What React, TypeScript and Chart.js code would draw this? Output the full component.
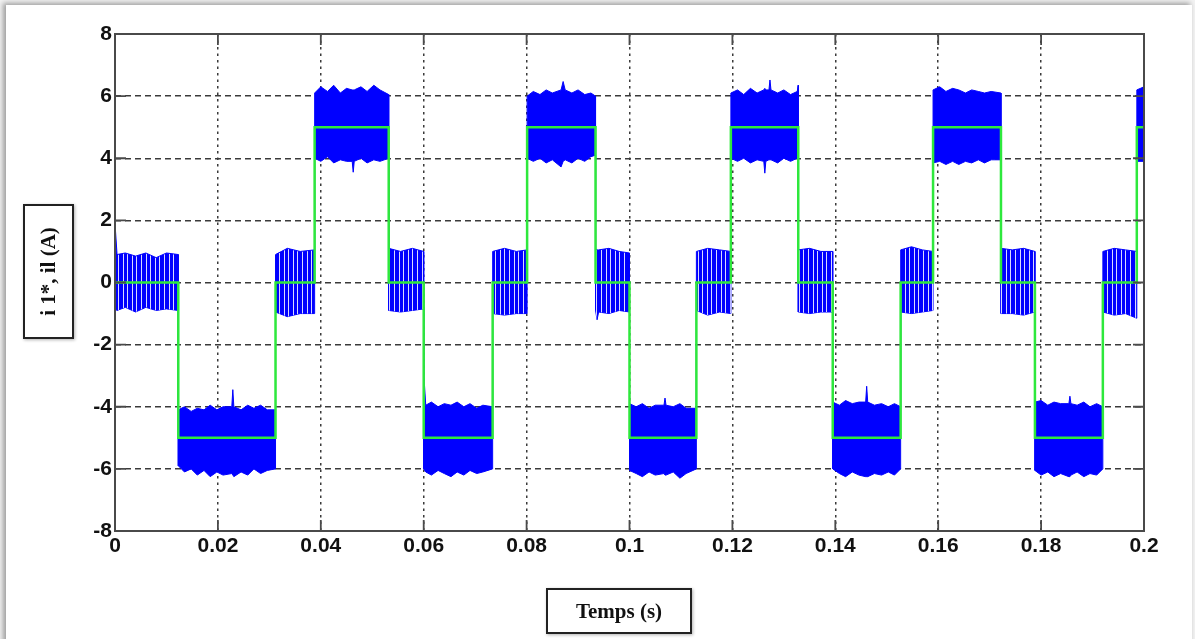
import React, { useEffect, useRef } from "react";
import { Chart, registerables } from "chart.js";

Chart.register(...registerables);

// ---- data ----
const xTickValues = [0, 0.02, 0.04, 0.06, 0.08, 0.1, 0.12, 0.14, 0.16, 0.18, 0.2];
const yTickValues = [-8, -6, -4, -2, 0, 2, 4, 6, 8];
const xTitle = "Temps (s)";
const yTitle = "i 1*, il (A)";

// reference current i1* (green step signal); each value holds until the next time
const stepTime = [0, 0.0123, 0.0312, 0.0388, 0.0532, 0.06, 0.0734, 0.0801, 0.0934, 0.1, 0.113, 0.1197, 0.1328, 0.1395, 0.1527, 0.159, 0.1722, 0.1788, 0.192, 0.1986, 0.2];
const stepValue = [0, -5, 0, 5, 0, -5, 0, 5, 0, -5, 0, 5, 0, -5, 0, 5, 0, -5, 0, 5, 5];

// measured current il (blue): upper / lower envelope of the ripple, read segment by segment
const blueTime = [
  0, 0.0004, 0.002, 0.004, 0.006, 0.008, 0.01, 0.0123,
  0.0123, 0.0135, 0.0148, 0.016, 0.0173, 0.0185, 0.0198, 0.021, 0.0227, 0.0229, 0.0231, 0.0245, 0.0258, 0.027, 0.0283, 0.0296, 0.0312,
  0.0312, 0.0335, 0.036, 0.0388,
  0.0388, 0.04, 0.0413, 0.0425, 0.0438, 0.045, 0.0461, 0.0463, 0.0465, 0.0478, 0.049, 0.0503, 0.0515, 0.0532,
  0.0532, 0.0555, 0.0578, 0.06,
  0.06, 0.0604, 0.0615, 0.0628, 0.064, 0.0653, 0.0665, 0.0678, 0.069, 0.0703, 0.0715, 0.0734,
  0.0734, 0.0757, 0.078, 0.0801,
  0.0801, 0.0813, 0.0826, 0.0838, 0.085, 0.0867, 0.0871, 0.0875, 0.0888, 0.09, 0.0913, 0.0925, 0.0934,
  0.0934, 0.0937, 0.094, 0.096, 0.098, 0.1,
  0.1, 0.1013, 0.1025, 0.1038, 0.105, 0.1067, 0.1069, 0.1071, 0.1085, 0.1098, 0.111, 0.113,
  0.113, 0.1152, 0.1175, 0.1197,
  0.1197, 0.121, 0.1222, 0.1235, 0.1248, 0.1261, 0.1263, 0.1265, 0.1271, 0.1273, 0.1275, 0.1288, 0.13, 0.1313, 0.1326, 0.1328,
  0.1328, 0.135, 0.1372, 0.1395,
  0.1395, 0.1408, 0.142, 0.1433, 0.1446, 0.1459, 0.1461, 0.1463, 0.1476, 0.149, 0.1503, 0.1515, 0.1527,
  0.1527, 0.1548, 0.1569, 0.159,
  0.159, 0.1603, 0.1615, 0.1628, 0.164, 0.1653, 0.1665, 0.1678, 0.169, 0.1703, 0.1722,
  0.1722, 0.1744, 0.1766, 0.1788,
  0.1788, 0.18, 0.1813, 0.1825, 0.1838, 0.1854, 0.1856, 0.1858, 0.187, 0.1883, 0.1895, 0.1908, 0.192,
  0.192, 0.1942, 0.1964, 0.1986,
  0.1986, 0.2,
];
const blueUpper = [
  1.9, 0.9, 0.95, 0.85, 0.95, 0.8, 0.95, 0.9,
  -4.1, -4.0, -4.15, -4.05, -4.1, -3.95, -4.1, -4.0, -4.0, -3.45, -4.0, -4.1, -3.95, -4.05, -3.95, -4.1, -4.1,
  0.9, 1.1, 1.0, 1.05,
  6.1, 6.3, 6.15, 6.35, 6.1, 6.25, 6.2, 6.2, 6.2, 6.3, 6.15, 6.35, 6.2, 6.05,
  1.1, 1.0, 1.1, 1.0,
  -2.9, -3.95, -3.85, -4.0, -3.9, -3.95, -3.85, -4.0, -3.9, -4.05, -3.95, -4.0,
  1.0, 1.1, 1.0, 1.05,
  6.0, 6.15, 6.05, 6.2, 6.1, 6.2, 6.47, 6.2, 6.1, 6.2, 6.05, 6.1, 6.0,
  1.1, 1.05, 1.05, 1.1, 1.0, 0.95,
  -3.9, -4.0, -3.9, -4.05, -3.95, -3.95, -3.72, -3.95, -4.0, -3.9, -4.05, -4.05,
  1.0, 1.1, 1.05, 1.0,
  6.1, 6.2, 6.05, 6.25, 6.1, 6.2, 6.25, 6.2, 6.2, 6.52, 6.2, 6.1, 6.2, 6.05, 6.15, 6.35,
  1.05, 1.1, 1.0, 1.0,
  -3.85, -3.95, -3.8, -3.9, -3.85, -3.85, -3.34, -3.85, -3.95, -3.9, -4.0, -3.9, -4.0,
  1.05, 1.15, 1.05, 1.0,
  6.2, 6.3, 6.15, 6.25, 6.2, 6.1, 6.2, 6.15, 6.1, 6.15, 6.1,
  1.1, 1.05, 1.1, 1.0,
  -3.85, -3.8, -3.95, -3.85, -3.9, -3.9, -3.66, -3.9, -3.95, -3.85, -4.0, -3.9, -4.0,
  1.0, 1.1, 1.05, 1.0,
  6.2, 6.3,
];
const blueLower = [
  -0.85, -0.9, -0.8, -0.95, -0.8, -0.9, -0.85, -0.9,
  -5.9, -6.1, -6.0, -6.2, -6.05, -6.25, -6.1, -6.2, -6.15, -6.2, -6.25, -6.1, -6.2, -6.0, -6.15, -6.05, -6.0,
  -0.95, -1.1, -1.0, -1.0,
  4.0, 3.9, 4.05, 3.85, 3.95, 3.9, 3.9, 3.55, 3.9, 4.0, 3.85, 3.95, 3.9, 4.0,
  -0.9, -0.95, -0.9, -0.85,
  -6.0, -6.1, -6.2, -6.05, -6.15, -6.25, -6.1, -6.2, -6.05, -6.15, -6.1, -6.0,
  -1.0, -1.05, -1.0, -1.0,
  4.0, 3.9, 4.0, 3.85, 3.95, 3.72, 3.9, 3.95, 3.85, 4.0, 3.9, 4.05, 4.1,
  -0.9, -1.2, -0.95, -1.0, -0.9, -0.95,
  -6.05, -6.15, -6.25, -6.1, -6.2, -6.15, -6.2, -6.2, -6.1, -6.3, -6.15, -6.0,
  -0.9, -1.05, -0.95, -1.0,
  4.0, 3.9, 4.0, 3.85, 3.95, 3.9, 3.52, 3.9, 3.95, 3.95, 3.95, 3.85, 4.0, 3.9, 4.0, 4.0,
  -0.95, -1.0, -0.95, -0.95,
  -6.0, -6.15, -6.25, -6.1, -6.2, -6.25, -6.25, -6.25, -6.15, -6.2, -6.1, -6.2, -6.0,
  -0.95, -1.0, -0.95, -0.9,
  3.85, 3.9, 3.8, 3.9, 3.8, 3.9, 3.85, 3.95, 3.85, 3.95, 3.95,
  -1.0, -1.0, -1.05, -0.95,
  -6.05, -6.2, -6.1, -6.25, -6.15, -6.25, -6.25, -6.2, -6.1, -6.25, -6.15, -6.2, -6.0,
  -0.95, -1.05, -1.0, -1.15,
  3.9, 3.9,
];

const BLUE = "#0000ff";
const GREEN = "#2ee83c";

function makeStripePattern(): CanvasPattern | string {
  const w = 23;
  const pc = document.createElement("canvas");
  pc.width = w;
  pc.height = 4;
  const c = pc.getContext("2d");
  if (!c) return BLUE;
  c.fillStyle = BLUE;
  c.fillRect(0, 0, w, 4);
  c.fillStyle = "rgba(255,255,255,0.85)";
  for (const gx of [3, 8, 12, 17, 21]) c.fillRect(gx, 0, 1, 4);
  return c.createPattern(pc, "repeat") || BLUE;
}

const framePlugin = {
  id: "matlabFrame",
  afterDraw(chart: any) {
    const { ctx, chartArea } = chart;
    const { left, right, top, bottom } = chartArea;
    const xs = chart.scales.x;
    const ys = chart.scales.y;
    ctx.save();
    ctx.strokeStyle = "#4a4a4a";
    ctx.lineWidth = 2;
    ctx.setLineDash([]);
    ctx.strokeRect(left, top, right - left, bottom - top);
    ctx.lineWidth = 1.8;
    ctx.beginPath();
    const tl = 11;
    for (const v of xTickValues) {
      const px = xs.getPixelForValue(v);
      ctx.moveTo(px, bottom);
      ctx.lineTo(px, bottom - tl);
      ctx.moveTo(px, top);
      ctx.lineTo(px, top + tl);
    }
    for (const v of yTickValues) {
      const py = ys.getPixelForValue(v);
      ctx.moveTo(left, py);
      ctx.lineTo(left + tl, py);
      ctx.moveTo(right, py);
      ctx.lineTo(right - tl, py);
    }
    ctx.stroke();
    ctx.restore();
  },
};

function PlotCanvas() {
  const ref = useRef<HTMLCanvasElement | null>(null);
  useEffect(() => {
    const canvas = ref.current;
    if (!canvas) return;
    const stripes = makeStripePattern();
    const stepData = stepTime.map((t, i) => ({ x: t, y: stepValue[i] }));
    const upperData = blueTime.map((t, i) => ({ x: t, y: blueUpper[i] }));
    const lowerData = blueTime.map((t, i) => ({ x: t, y: blueLower[i] }));
    const tickFont = { family: "'Liberation Sans', Arial, sans-serif", size: 21, weight: "bold" as const };

    const chart = new Chart(canvas, {
      type: "line",
      data: {
        datasets: [
          {
            label: "i1*",
            data: stepData,
            borderColor: GREEN,
            borderWidth: 2.5,
            pointRadius: 0,
            stepped: "before",
            fill: false,
          },
          {
            label: "il upper",
            data: upperData,
            borderColor: BLUE,
            borderWidth: 1,
            pointRadius: 0,
            tension: 0,
            fill: "+1",
            backgroundColor: BLUE,
            segment: {
              backgroundColor: (c: any) =>
                Math.abs(c.p0.parsed.y) < 2.5 && Math.abs(c.p1.parsed.y) < 2.5 ? stripes : BLUE,
            },
          },
          {
            label: "il lower",
            data: lowerData,
            borderColor: BLUE,
            borderWidth: 1,
            pointRadius: 0,
            tension: 0,
            fill: false,
          },
        ],
      },
      options: {
        responsive: false,
        animation: false,
        events: [],
        layout: { padding: { top: 34, right: 51, left: 0, bottom: 0 } },
        plugins: {
          legend: { display: false },
          tooltip: { enabled: false },
          title: { display: false },
        },
        scales: {
          x: {
            type: "linear",
            min: 0,
            max: 0.2,
            afterBuildTicks: (s: any) => {
              s.ticks = xTickValues.map((v) => ({ value: v }));
            },
            afterFit: (s: any) => {
              s.height = 108;
            },
            ticks: {
              color: "#111",
              font: tickFont,
              padding: 3,
              maxRotation: 0,
              autoSkip: false,
              callback: (v: any) => String(Number(Number(v).toFixed(2))),
            },
            grid: {
              color: "#3a3a3a",
              lineWidth: 1.5,
              drawTicks: false,
            },
            border: { display: false, dash: [2.5, 4] },
          },
          y: {
            type: "linear",
            min: -8,
            max: 8,
            afterBuildTicks: (s: any) => {
              s.ticks = yTickValues.map((v) => ({ value: v }));
            },
            afterFit: (s: any) => {
              s.width = 115;
            },
            ticks: {
              color: "#111",
              font: tickFont,
              padding: 3,
              autoSkip: false,
              callback: (v: any) => String(v),
            },
            grid: {
              color: "#3a3a3a",
              lineWidth: 1.5,
              drawTicks: false,
            },
            border: { display: false, dash: [6, 4] },
          },
        },
      },
      plugins: [framePlugin],
    });
    return () => chart.destroy();
  }, []);
  return (
    <canvas
      ref={ref}
      width={1195}
      height={639}
      style={{ position: "absolute", left: 0, top: 0, width: 1195, height: 639 }}
    />
  );
}

export default function App() {
  return (
    <div
      style={{
        position: "absolute",
        left: 0,
        top: 0,
        width: 1195,
        height: 639,
        overflow: "hidden",
        background: "#f2f2f2",
      }}
    >
      <div
        style={{
          position: "absolute",
          left: 6,
          top: 5,
          width: 1186,
          height: 700,
          background: "#ffffff",
          borderRight: "1px solid #e4e4e4",
          boxShadow: "-3px -2px 5px rgba(0,0,0,0.35)",
        }}
      />
      <PlotCanvas />
      <div
        style={{
          position: "absolute",
          left: 23,
          top: 204,
          width: 47,
          height: 131,
          border: "2px solid #222",
          background: "#fff",
          boxShadow: "1px 1px 3px rgba(0,0,0,0.3)",
          display: "flex",
          alignItems: "center",
          justifyContent: "center",
        }}
      >
        <div
          style={{
            transform: "rotate(-90deg)",
            whiteSpace: "nowrap",
            fontFamily: "'Liberation Serif', 'Times New Roman', serif",
            fontWeight: "bold",
            fontSize: 21,
            color: "#111",
          }}
        >
          {yTitle}
        </div>
      </div>
      <div
        style={{
          position: "absolute",
          left: 546,
          top: 588,
          width: 142,
          height: 42,
          border: "2px solid #222",
          background: "#fff",
          boxShadow: "1px 1px 3px rgba(0,0,0,0.3)",
          display: "flex",
          alignItems: "center",
          justifyContent: "center",
          fontFamily: "'Liberation Serif', 'Times New Roman', serif",
          fontWeight: "bold",
          fontSize: 21,
          color: "#111",
        }}
      >
        {xTitle}
      </div>
    </div>
  );
}
